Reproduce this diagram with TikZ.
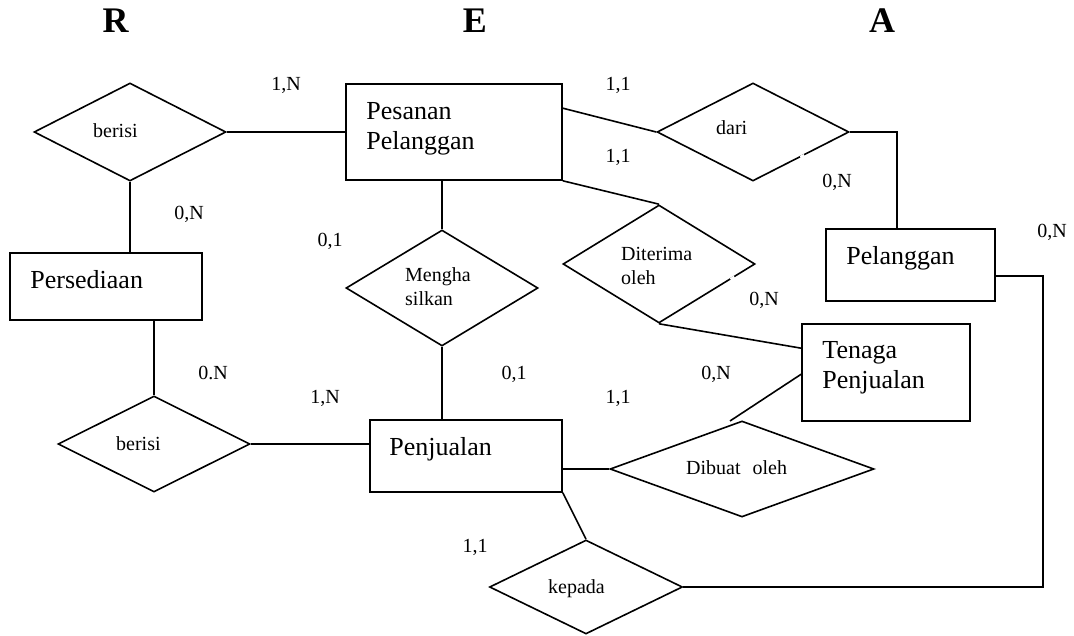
\documentclass[tikz,border=0pt]{standalone}
\usepackage{fontspec}
\setmainfont{Liberation Serif}
\usetikzlibrary{shapes.geometric,calc}
\tikzset{
  ln/.style={line width=1.6pt, line join=miter},
  ent/.style={draw, ln, rectangle, inner sep=0pt, minimum width=#1},
  rel/.style={draw, ln, diamond, inner sep=0pt},
  enttxt/.style={anchor=north west, inner sep=0pt, align=left, font=\fontsize{26}{30}\selectfont},
  reltxt/.style={anchor=base west, inner sep=0pt, align=left, font=\fontsize{20}{24}\selectfont},
  card/.style={anchor=base, inner sep=0pt, font=\fontsize{20}{24}\selectfont},
  ttl/.style={anchor=base, inner sep=0pt, font=\fontsize{36}{40}\selectfont\bfseries},
  gap/.style={draw=white, line width=3.2pt, line cap=butt}
}
\begin{document}
\begin{tikzpicture}[x=1pt,y=-1pt]
\useasboundingbox (0,0) rectangle (1074,636);
% titles
\node[ttl] (tR) at (115.5,33) {R};
\node[ttl] (tE) at (475,33) {E};
\node[ttl] (tA) at (882,33) {A};
% entities
\node[ent=216, minimum height=96] (pes) at (454,132) {};
\node[ent=192, minimum height=67] (pers) at (106,286.5) {};
\node[ent=169, minimum height=72] (pel) at (910.5,265) {};
\node[ent=168, minimum height=97] (ten) at (886,372.5) {};
\node[ent=192, minimum height=72] (penj) at (466,456) {};
\node[enttxt] (pesT) at ($(pes.north west)+(21,19)$) {Pesanan\\Pelanggan};
\node[enttxt] (persT) at ($(pers.north west)+(21,18)$) {Persediaan};
\node[enttxt] (pelT) at ($(pel.north west)+(21,18)$) {Pelanggan};
\node[enttxt] (tenT) at ($(ten.north west)+(21,18)$) {Tenaga\\Penjualan};
\node[enttxt] (penjT) at ($(penj.north west)+(20,18)$) {Penjualan};
% relationships
\node[rel, minimum width=192, minimum height=98] (b1) at (130,132) {};
\node[rel, minimum width=192, minimum height=98] (dari) at (753,132) {};
\node[rel, minimum width=192, minimum height=116] (meng) at (442,288) {};
\node[rel, minimum width=192, minimum height=118] (dit) at (659,264) {};
\node[rel, minimum width=192, minimum height=96] (b2) at (154,444) {};
\node[rel, minimum width=264, minimum height=96] (dib) at (742,469) {};
\node[rel, minimum width=193, minimum height=94] (kep) at (586,587) {};
% small breaks in two diamond outlines, as in the original
\path[gap] ($(dari.east)!0.47!(dari.south)$) -- ($(dari.east)!0.51!(dari.south)$);
\path[gap] ($(dit.east)!0.22!(dit.south)$) -- ($(dit.east)!0.26!(dit.south)$);
\node[reltxt] (b1T) at (93,138) {berisi};
\node[reltxt] (dariT) at (716,135) {dari};
\node[reltxt] (mengT) at (405,306) {Mengha\\silkan};
\node[reltxt] (ditT) at (621,285) {Diterima\\oleh};
\node[reltxt] (b2T) at (116,450) {berisi};
\node[reltxt] (dibT) at (686,474) {Dibuat\hspace{12pt}oleh};
\node[reltxt] (kepT) at (548,593) {kepada};
% cardinalities
\node[card] (c1) at (286,91) {1,N};
\node[card] (c2) at (618,91) {1,1};
\node[card] (c3) at (618,163) {1,1};
\node[card] (c4) at (189,220) {0,N};
\node[card] (c5) at (330,247) {0,1};
\node[card] (c6) at (837,188) {0,N};
\node[card] (c7) at (1052,238) {0,N};
\node[card] (c8) at (764,306) {0,N};
\node[card] (c9) at (213,379) {0.N};
\node[card] (c10) at (325,403) {1,N};
\node[card] (c11) at (514,379) {0,1};
\node[card] (c12) at (716,379) {0,N};
\node[card] (c13) at (618,403) {1,1};
\node[card] (c14) at (475,552) {1,1};
% connectors
\coordinate (pesR) at ($(pes.north east)+(0,25)$);
\coordinate (pelTop) at ($(pel.north west)+(72,0)$);
\coordinate (tenL1) at ($(ten.north west)+(0,25)$);
\coordinate (tenL2) at ($(ten.north west)+(0,51)$);
\coordinate (dibEnd) at (730,421);
\coordinate (pelR) at ($(pel.north east)+(0,48)$);
\coordinate (rc) at (1043,587);
\draw[ln] (b1.east) -- (b1.east -| pes.west);
\draw[ln] (b1.south) -- (b1.south |- pers.north);
\draw[ln] (b2.north |- pers.south) -- (b2.north);
\draw[ln] (b2.east) -- (b2.east -| penj.west);
\draw[ln] (pesR) -- (dari.west);
\draw[ln] (dari.east) -| (pelTop);
\draw[ln] (pes.south east) -- (dit.north);
\draw[ln] (meng.north |- pes.south) -- (meng.north);
\draw[ln] (meng.south) -- (meng.south |- penj.north);
\draw[ln] (dit.south) -- (tenL1);
\draw[ln] (tenL2) -- (dibEnd);
\draw[ln] (dib.west -| penj.east) -- (dib.west);
\draw[ln] (penj.south east) -- (kep.north);
\draw[ln] (pelR) -| (rc) -- (kep.east);
\end{tikzpicture}
\end{document}
